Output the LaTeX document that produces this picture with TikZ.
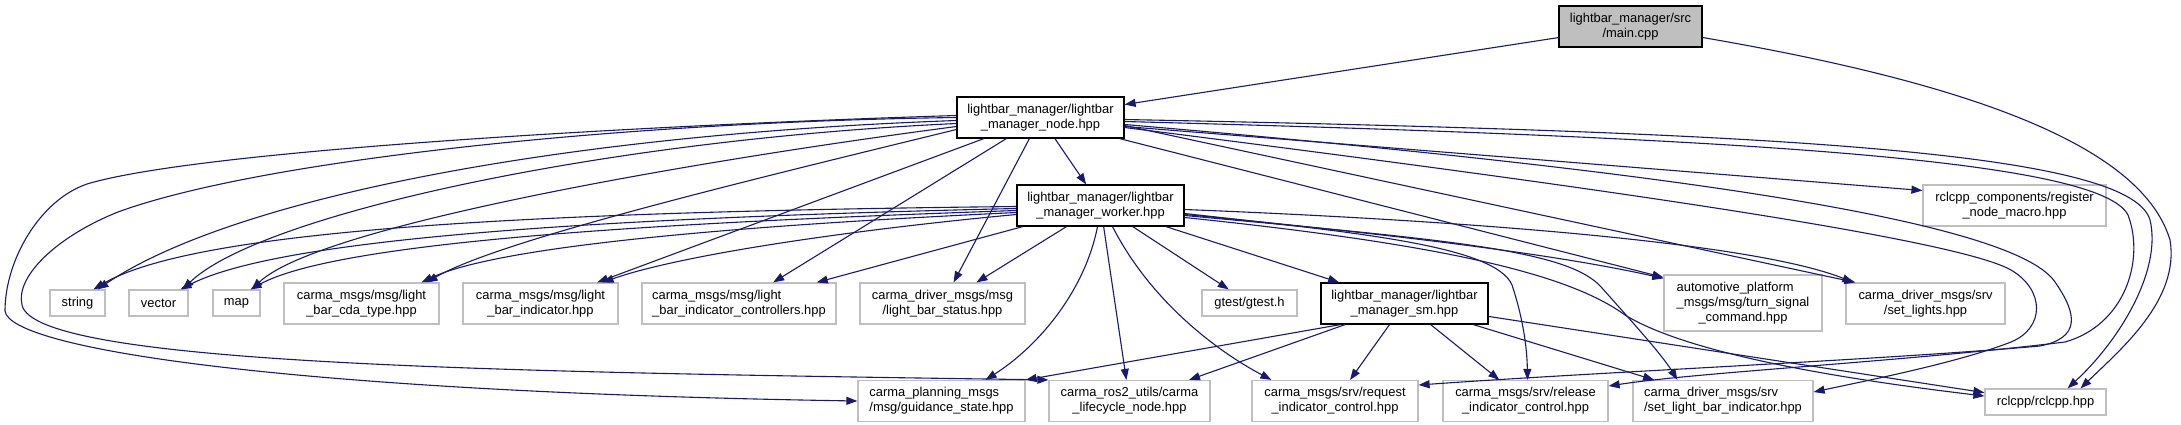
\documentclass[tikz,border=0pt]{standalone}
\usepackage{fontspec}
\setmainfont{Liberation Sans}
\usetikzlibrary{arrows.meta,calc}
\definecolor{edgec}{HTML}{191970}
\definecolor{boxg}{HTML}{BFBFBF}
\newcommand\dfont{\fontsize{12.9}{15}\selectfont}
\begin{document}
\begin{tikzpicture}[x=1pt,y=-1pt,
  box/.style={draw=boxg,line width=1.2pt,inner sep=0pt,minimum height=41pt,align=center,font=\dfont,text=black},
  sbox/.style={box,minimum height=26pt},
  ibox/.style={box,draw=black},
  e/.style={draw=edgec,line width=1.1pt,-{Triangle[length=11pt,width=8pt]}}]
\fill[white] (0,0) rectangle (2181,424);
\useasboundingbox (0,0) rectangle (2181,424);
% nodes
\node[ibox,fill=boxg,minimum width=143pt] (mainc) at (1630.5,26.5) {lightbar\_manager/src\\/main.cpp};
\node[ibox,minimum width=167pt] (nodeh) at (1040.5,117.5) {lightbar\_manager/lightbar\\\_manager\_node.hpp};
\node[ibox,minimum width=167pt] (worker) at (1100.5,205.5) {lightbar\_manager/lightbar\\\_manager\_worker.hpp};
\node[box,minimum width=183pt] (regm) at (2014.5,205.5) {rclcpp\_components/register\\\_node\_macro.hpp};
\node[sbox,minimum width=55pt] (str) at (77.5,303) {string};
\node[sbox,minimum width=59pt] (vec) at (158.5,303) {vector};
\node[sbox,minimum width=47pt] (mapn) at (236.5,303) {map};
\node[box,minimum width=155pt] (cda) at (361.5,303.5) {carma\_msgs/msg/light\\\_bar\_cda\_type.hpp};
\node[box,minimum width=155pt] (ind) at (540.5,303.5) {carma\_msgs/msg/light\\\_bar\_indicator.hpp};
\node[box,minimum width=194pt] (ctrl) at (739,303.5) {\rlap{carma\_msgs/msg/light}\phantom{\_bar\_indicator\_controllers.hpp}\\\_bar\_indicator\_controllers.hpp};
\node[box,minimum width=165pt] (stat) at (942.5,303.5) {carma\_driver\_msgs/msg\\/light\_bar\_status.hpp};
\node[sbox,minimum width=95pt] (gtest) at (1249.5,303) {gtest/gtest.h};
\node[ibox,minimum width=167pt] (smh) at (1404.5,303.5) {lightbar\_manager/lightbar\\\_manager\_sm.hpp};
\node[box,minimum width=158pt,minimum height=56pt] (autom) at (1743,303) {\rlap{automotive\_platform}\phantom{\_msgs/msg/turn\_signal}\\\_msgs/msg/turn\_signal\\\_command.hpp};
\node[box,minimum width=159pt] (setl) at (1925.5,303.5) {carma\_driver\_msgs/srv\\/set\_lights.hpp};
\node[box,minimum width=167pt] (guid) at (941.5,401) {\rlap{carma\_planning\_msgs}\phantom{/msg/guidance\_state.hpp}\\/msg/guidance\_state.hpp};
\node[box,minimum width=161pt] (life) at (1129.5,401) {carma\_ros2\_utils/carma\\\_lifecycle\_node.hpp};
\node[box,minimum width=166pt] (req) at (1335,401) {carma\_msgs/srv/request\\\_indicator\_control.hpp};
\node[box,minimum width=165pt] (rel) at (1525.5,401) {carma\_msgs/srv/release\\\_indicator\_control.hpp};
\node[box,minimum width=180pt] (slbi) at (1723,401) {\rlap{carma\_driver\_msgs/srv}\phantom{/set\_light\_bar\_indicator.hpp}\\/set\_light\_bar\_indicator.hpp};
\node[sbox,minimum width=121pt] (rcl) at (2045.5,402) {rclcpp/rclcpp.hpp};
% main.cpp
\draw[e] (mainc) -- (nodeh);
\draw[e] ($(mainc.east)+(0,11)$) .. controls (1950,80) and (2140,140) .. (2170,240) .. controls (2180,300) and (2120,350) .. ($(rcl.north)+(35,0)$);
% node.hpp
\draw[e] (nodeh) -- (worker);
\draw[e] ($(nodeh.west)+(0,3)$) .. controls (550,135) and (230,200) .. ($(str.north)+(20,0)$);
\draw[e] ($(nodeh.west)+(0,6)$) .. controls (600,140) and (260,215) .. ($(vec.north)+(24,0)$);
\draw[e] ($(nodeh.west)+(0,9)$) .. controls (700,160) and (320,225) .. ($(mapn.north)+(15,0)$);
\draw[e] ($(nodeh.west)+(0,12)$) .. controls (750,180) and (500,240) .. ($(cda.north)+(65,0)$);
\draw[e] (nodeh) -- (ind);
\draw[e] (nodeh) -- (ctrl);
\draw[e] (nodeh) -- (stat);
\draw[e] ($(nodeh.west)+(0,-2)$) .. controls (650,125) and (200,150) .. (87,184) .. controls (40,200) and (5,260) .. (5,311) .. controls (10,350) and (300,392) .. (guid.west);
\draw[e] (nodeh.west) .. controls (620,122) and (260,160) .. (118,212) .. controls (60,235) and (15,275) .. (22,305) .. controls (35,365) and (500,372) .. (life.north west);
\draw[e] ($(nodeh.east)+(0,9)$) -- ($(regm.west)+(0,-15)$);
\draw[e] ($(nodeh.south east)+(-5,0)$) -- ($(autom.north west)+(0,3)$);
\draw[e] ($(nodeh.east)+(0,8)$) -- ($(setl.north west)+(10,0)$);
\draw[e] ($(nodeh.east)+(0,10)$) .. controls (1500,175) and (1950,235) .. (2011,270) .. controls (2045,290) and (2045,328) .. (2011,342) .. controls (1960,362) and (1870,380) .. ($(slbi.east)+(0,-9)$);
\draw[e] ($(nodeh.east)+(0,7)$) .. controls (1600,165) and (2010,215) .. (2055,282) .. controls (2078,315) and (2080,338) .. (2040,346) .. controls (1880,360) and (1600,372) .. ($(req.east)+(0,-16)$);
\draw[e] ($(nodeh.east)+(0,4)$) .. controls (1750,138) and (2100,160) .. (2128,215) .. controls (2145,260) and (2125,325) .. (2065,342) .. controls (1900,362) and (1700,372) .. ($(rel.east)+(0,-15)$);
\draw[e] ($(nodeh.east)+(0,2)$) .. controls (1760,132) and (2130,150) .. (2150,220) .. controls (2162,270) and (2120,340) .. ($(rcl.north)+(22,0)$);
% worker.hpp
\draw[e] ($(worker.west)+(0,1)$) .. controls (500,212) and (190,232) .. ($(str.north)+(16,0)$);
\draw[e] ($(worker.west)+(0,3)$) .. controls (600,218) and (280,238) .. ($(vec.north)+(22,0)$);
\draw[e] ($(worker.west)+(0,5)$) .. controls (680,222) and (340,240) .. ($(mapn.north)+(14,0)$);
\draw[e] ($(worker.west)+(0,7)$) .. controls (750,225) and (500,245) .. ($(cda.north)+(60,0)$);
\draw[e] ($(worker.west)+(0,9)$) .. controls (850,230) and (680,255) .. ($(ind.north)+(62,0)$);
\draw[e] (worker) -- (ctrl);
\draw[e] (worker) -- (stat);
\draw[e] ($(worker.south)+(-3,0)$) .. controls (1085,290) and (1040,345) .. ($(guid.north east)+(-40,0)$);
\draw[e] (worker) -- (life);
\draw[e] ($(worker.south)+(12,0)$) .. controls (1150,300) and (1215,350) .. ($(req.north west)+(20,0)$);
\draw[e] (worker) -- (gtest);
\draw[e] (worker) -- (smh);
\draw[e] ($(worker.east)+(0,8)$) .. controls (1350,232) and (1495,245) .. (1512,285) .. controls (1522,315) and (1527,345) .. ($(rel.north)+(2,0)$);
\draw[e] ($(worker.east)+(0,10)$) .. controls (1450,240) and (1570,250) .. (1602,288) .. controls (1635,325) and (1662,355) .. ($(slbi.north west)+(45,0)$);
\draw[e] ($(worker.east)+(0,12)$) .. controls (1450,245) and (1570,275) .. (1625,315) .. controls (1690,355) and (1850,380) .. ($(rcl.west)+(0,-6)$);
\draw[e] ($(worker.east)+(0,9)$) .. controls (1400,235) and (1560,255) .. ($(autom.north west)+(0,4)$);
\draw[e] ($(worker.east)+(0,4)$) .. controls (1500,222) and (1760,245) .. ($(setl.north west)+(8,0)$);
% sm.hpp
\draw[e] ($(smh.south west)+(20,0)$) -- (guid.north east);
\draw[e] (smh) -- (life);
\draw[e] (smh) -- (req);
\draw[e] (smh) -- (rel);
\draw[e] (smh) -- (slbi);
\draw[e] (smh) -- (rcl);
\end{tikzpicture}
\end{document}
